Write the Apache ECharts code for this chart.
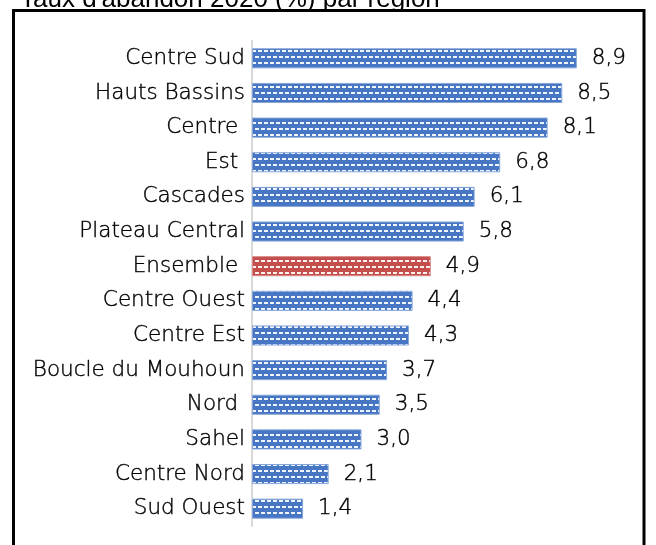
<!DOCTYPE html>
<html>
<head>
<meta charset="utf-8">
<script src="https://cdn.jsdelivr.net/npm/echarts@6/dist/echarts.min.js"></script>
<style>
  html, body { margin: 0; padding: 0; background: #fff; }
  #chart { width: 656px; height: 545px; }
</style>
</head>
<body>
<div id="chart"></div>
<script>
const regions = ['Centre Sud', 'Hauts Bassins', 'Centre ', 'Est ', 'Cascades', 'Plateau Central', 'Ensemble ',
  'Centre Ouest', 'Centre Est', 'Boucle du Mouhoun', 'Nord ', 'Sahel', 'Centre Nord', 'Sud Ouest']
const rates = [8.9, 8.5, 8.1, 6.8, 6.1, 5.8, 4.9, 4.4, 4.3, 3.7, 3.5, 3.0, 2.1, 1.4]
const highlight = 'Ensemble '

// dashed white pattern on top of the bar colour
function makePattern(base) {
  const c = document.createElement('canvas')
  c.width = 6
  c.height = 12
  const ctx = c.getContext('2d')
  ctx.fillStyle = base
  ctx.fillRect(0, 0, 6, 12)
  ctx.fillStyle = 'rgba(255,255,255,0.92)'
  ctx.fillRect(0, 2, 4, 2)
  ctx.fillRect(3, 8, 3, 2)
  ctx.fillRect(0, 8, 1, 2)
  return { image: c, repeat: 'repeat' }
}

const bluePat = makePattern('#4676c4')
const redPat = makePattern('#c44e4b')

const chart = echarts.init(document.getElementById('chart'))
chart.setOption({
  animation: false,
  graphic: [
    {
      type: 'text', left: 20, top: -13,
      style: { text: "Taux d'abandon 2020 (%) par région", font: '26px "Liberation Sans"', fill: '#000' }
    },
    {
      type: 'rect', shape: { x: 13.5, y: 10.5, width: 630.5, height: 560 },
      style: { fill: 'none', stroke: '#000', lineWidth: 3 }
    }
  ],
  grid: { left: 252, top: 41, right: 39, bottom: 19 },
  xAxis: {
    type: 'value', min: 0, max: 10, show: false
  },
  yAxis: {
    type: 'category',
    inverse: true,
    data: regions,
    axisLine: { lineStyle: { color: '#d9d9d9', width: 2 } },
    axisTick: { show: false },
    axisLabel: {
      fontFamily: 'DejaVu Sans', fontWeight: 200, fontSize: 21.5, color: '#000',
      textBorderColor: '#000', textBorderWidth: 0.4,
      margin: 7, padding: [3, 0, 0, 0]
    }
  },
  series: [{
    type: 'bar',
    barCategoryGap: '42%',
    data: rates.map((v, i) => ({
      value: v,
      itemStyle: {
        color: regions[i] === highlight ? redPat : bluePat,
        borderColor: regions[i] === highlight ? '#d98a88' : '#86a6da',
        borderWidth: 1
      }
    })),
    label: {
      show: true,
      position: 'right',
      distance: 15,
      padding: [3, 0, 0, 0],
      fontFamily: 'DejaVu Sans',
      fontWeight: 200,
      fontSize: 21.5,
      color: '#000',
      textBorderColor: '#000',
      textBorderWidth: 0.4,
      formatter: p => p.value.toFixed(1).replace('.', ',')
    }
  }]
})
</script>
</body>
</html>
